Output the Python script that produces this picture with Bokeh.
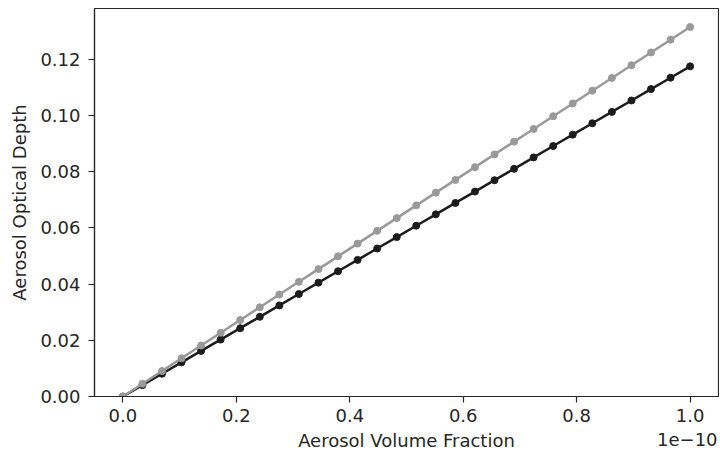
from bokeh.plotting import figure
from bokeh.models import FixedTicker, Range1d, LinearAxis
from bokeh.embed import file_html
from bokeh.resources import INLINE

# x in units of 1e-10
volume_fraction = [0.0, 0.0345, 0.0690, 0.1034, 0.1379, 0.1724, 0.2069, 0.2414, 0.2759, 0.3103,
                   0.3448, 0.3793, 0.4138, 0.4483, 0.4828, 0.5172, 0.5517, 0.5862, 0.6207, 0.6552,
                   0.6897, 0.7241, 0.7586, 0.7931, 0.8276, 0.8621, 0.8966, 0.9310, 0.9655, 1.0]
aod_gray = [0.0, 0.00453, 0.00907, 0.0136, 0.01814, 0.02267, 0.02721, 0.03174, 0.03628, 0.04081,
            0.04534, 0.04988, 0.05441, 0.05895, 0.06348, 0.06802, 0.07255, 0.07709, 0.08162, 0.08616,
            0.09069, 0.09522, 0.09976, 0.10429, 0.10883, 0.11336, 0.1179, 0.12243, 0.12697, 0.1315]
aod_black = [0.0, 0.00405, 0.0081, 0.01216, 0.01621, 0.02026, 0.02431, 0.02836, 0.03241, 0.03647,
             0.04052, 0.04457, 0.04862, 0.05267, 0.05672, 0.06078, 0.06483, 0.06888, 0.07293, 0.07698,
             0.08103, 0.08509, 0.08914, 0.09319, 0.09724, 0.10129, 0.10534, 0.1094, 0.11345, 0.1175]
x_ticks = [0.0, 0.2, 0.4, 0.6, 0.8, 1.0]
x_tick_labels = ["0.0", "0.2", "0.4", "0.6", "0.8", "1.0"]
y_ticks = [0.0, 0.02, 0.04, 0.06, 0.08, 0.10, 0.12]
y_tick_labels = ["0.00", "0.02", "0.04", "0.06", "0.08", "0.10", "0.12"]
x_label = "Aerosol Volume Fraction"
y_label = "Aerosol Optical Depth"
offset_text = "1e\u221210"

FONT = "DejaVu Sans"
DARK = "#262626"
FS = "18px"
OFFSET_POS = 0.995  # where the scale-offset text is centred (axis units)

p = figure(output_backend="svg", toolbar_location=None,
           frame_width=624, frame_height=388,
           min_border_left=94, min_border_right=1, min_border_top=8, min_border_bottom=55,
           x_range=Range1d(-0.05, 1.05), y_range=Range1d(0.0, 0.13808))
p.background_fill_color = "white"
p.border_fill_color = "white"
p.outline_line_color = DARK
p.outline_line_width = 1.2
p.xgrid.visible = False
p.ygrid.visible = False

p.line(volume_fraction, aod_black, line_color="#1c1c1c", line_width=2.5)
p.scatter(volume_fraction, aod_black, marker="circle", size=7, fill_color="#1c1c1c", line_color="#1c1c1c")
p.line(volume_fraction, aod_gray, line_color="#999999", line_width=2.5)
p.scatter(volume_fraction, aod_gray, marker="circle", size=7, fill_color="#999999", line_color="#999999")

for ax, ticks, labels in ((p.xaxis[0], x_ticks, x_tick_labels), (p.yaxis[0], y_ticks, y_tick_labels)):
    ax.ticker = FixedTicker(ticks=ticks)
    ax.major_label_overrides = {t: l for t, l in zip(ticks, labels)}
    ax.minor_tick_line_color = None
    ax.major_tick_out = 6
    ax.major_tick_in = 0
    ax.major_tick_line_color = DARK
    ax.major_tick_line_width = 1.2
    ax.axis_line_color = DARK
    ax.axis_line_width = 1.2
    ax.major_label_text_font = FONT
    ax.major_label_text_font_size = FS
    ax.major_label_text_color = DARK
    ax.axis_label_text_font = FONT
    ax.axis_label_text_font_size = FS
    ax.axis_label_text_color = DARK
    ax.axis_label_text_font_style = "normal"

p.xaxis.axis_label = x_label
p.yaxis.axis_label = y_label
p.xaxis.major_label_standoff = 6
p.yaxis.major_label_standoff = 8
p.xaxis.axis_label_standoff = 5
p.yaxis.axis_label_standoff = 7

# scale-offset text ("1e-10") drawn as the single label of a bare second x axis
off_axis = LinearAxis(ticker=FixedTicker(ticks=[OFFSET_POS]),
                      major_label_overrides={OFFSET_POS: offset_text},
                      axis_line_color=None, major_tick_line_color=None, minor_tick_line_color=None,
                      major_tick_out=0, major_tick_in=0,
                      major_label_text_font=FONT, major_label_text_font_size=FS,
                      major_label_text_color=DARK)
try:
    off_axis.major_label_standoff = -21
except Exception:
    off_axis.major_label_standoff = 0
p.add_layout(off_axis, "below")

open("out.html", "w").write(file_html(p, INLINE))
